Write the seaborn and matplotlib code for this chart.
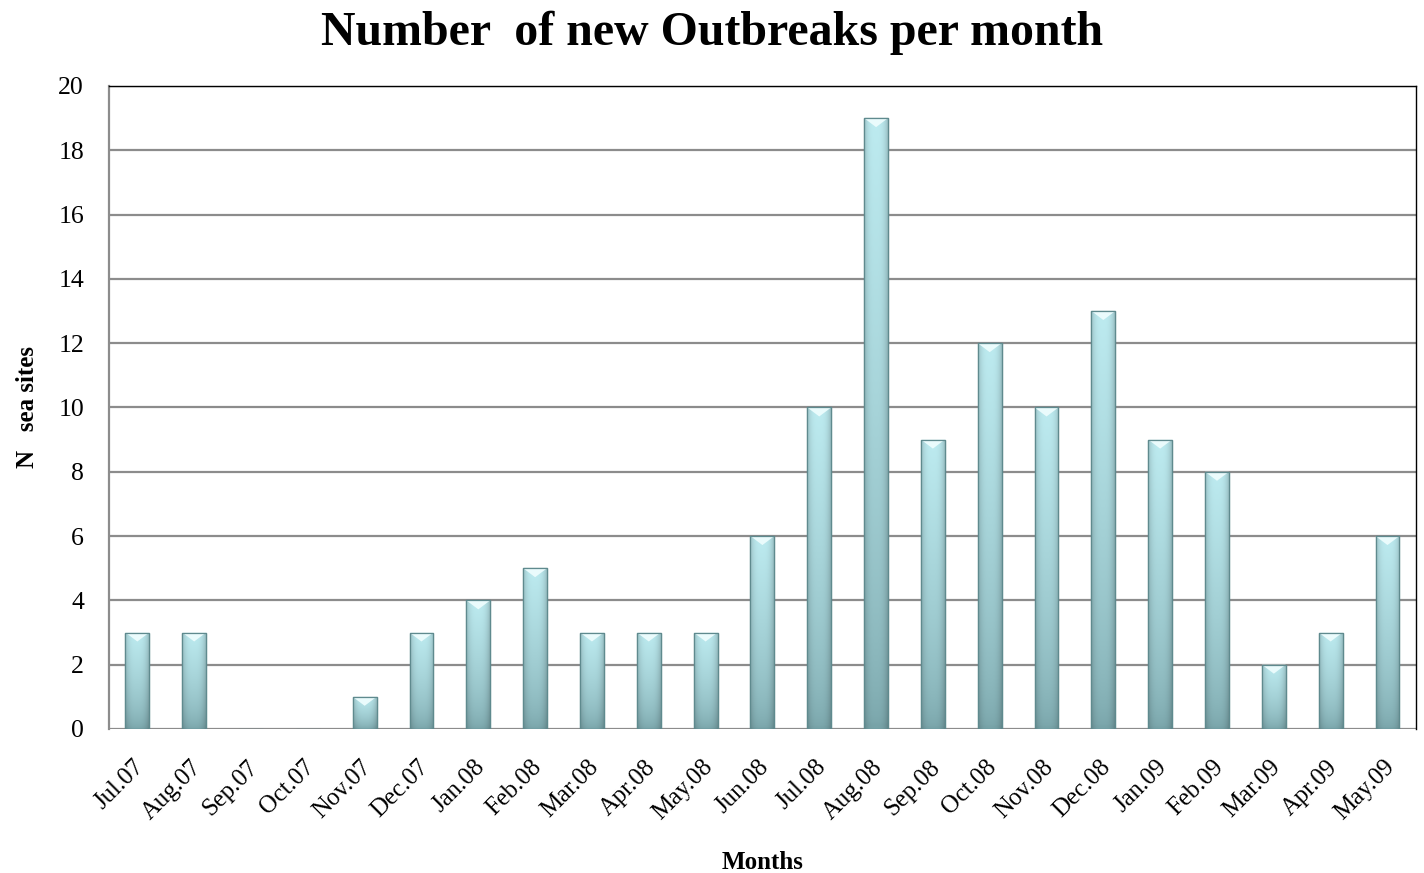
import numpy as np
import pandas as pd
import seaborn as sns
import matplotlib.pyplot as plt
from matplotlib.transforms import ScaledTranslation

months = ['Jul.07', 'Aug.07', 'Sep.07', 'Oct.07', 'Nov.07', 'Dec.07', 'Jan.08', 'Feb.08',
          'Mar.08', 'Apr.08', 'May.08', 'Jun.08', 'Jul.08', 'Aug.08', 'Sep.08', 'Oct.08',
          'Nov.08', 'Dec.08', 'Jan.09', 'Feb.09', 'Mar.09', 'Apr.09', 'May.09']
outbreaks = [3, 3, 0, 0, 1, 3, 4, 5, 3, 3, 3, 6, 10, 19, 9, 12, 10, 13, 9, 8, 2, 3, 6]

df = pd.DataFrame({'month': months, 'n': outbreaks})

sns.set_style('white')
plt.rcParams['font.family'] = ['Liberation Serif', 'DejaVu Serif']
plt.rcParams['text.color'] = 'black'

fig = plt.figure(figsize=(14.24, 8.73), dpi=100)
ax = fig.add_axes([0.0765, 0.165, 0.9178, 0.7365])

sns.barplot(data=df, x='month', y='n', color='#a9dde2', width=0.42,
            edgecolor='#5f8a8e', linewidth=0.9, ax=ax)

# bevelled look: gradient clipped to each bar
top = np.array([0.74, 0.92, 0.94])
bot = np.array([0.47, 0.64, 0.66])
xs = np.linspace(-1, 1, 40)
vs = np.linspace(0, 1, 100)[:, None, None]
base = bot + (top - bot) * vs ** 0.6
edge = 1 - 0.18 * np.abs(xs)[None, :, None] ** 3
img = np.clip(base * edge, 0, 1)
for p in ax.patches:
    h = p.get_height()
    if h <= 0:
        continue
    x0, w = p.get_x(), p.get_width()
    im = ax.imshow(img, aspect='auto', origin='lower',
                   extent=[x0, x0 + w, 0, h], zorder=p.get_zorder() + 0.1)
    im.set_clip_path(p)
    ax.fill([x0, x0 + w, x0 + w / 2], [h, h, h - 0.28], color='#eafbfc',
            zorder=p.get_zorder() + 0.2, lw=0)
    ax.plot([x0, x0 + w, x0 + w, x0, x0], [0, 0, h, h, 0], color='#5f8a8e',
            lw=0.9, zorder=p.get_zorder() + 0.3)

ax.set_xlim(-0.5, len(months) - 0.5)
ax.set_ylim(0, 20)
ax.set_yticks(range(0, 21, 2))
ax.yaxis.grid(True, color='#8c8c8c', linewidth=1.6)
ax.set_axisbelow(True)
ax.spines['bottom'].set_visible(False)
ax.spines['top'].set_color('black')
ax.spines['top'].set_linewidth(1.0)
ax.spines['right'].set_color('black')
ax.spines['right'].set_linewidth(1.0)
ax.spines['left'].set_color('#8c8c8c')
ax.spines['left'].set_linewidth(1.6)
ax.tick_params(axis='y', length=7, color='#8c8c8c', width=1.6, labelsize=18.5,
               labelcolor='black', pad=11)
ax.tick_params(axis='x', length=0, labelsize=17.8, labelcolor='black', pad=25)
offset = ScaledTranslation(2.5 / 72, 0, fig.dpi_scale_trans)
for lab in ax.get_xticklabels():
    lab.set_rotation(45)
    lab.set_ha('right')
    lab.set_va('center')
    lab.set_rotation_mode('anchor')
    lab.set_transform(lab.get_transform() + offset)

ax.set_xlabel('Months', fontsize=18, fontweight='bold', color='black', labelpad=19)
ax.set_ylabel('N   sea sites', fontsize=18, fontweight='bold', color='black', labelpad=14)
fig.suptitle('Number  of new Outbreaks per month', fontsize=34.5, fontweight='bold',
             color='black', y=0.988)

fig.savefig('out.png', dpi=100)
